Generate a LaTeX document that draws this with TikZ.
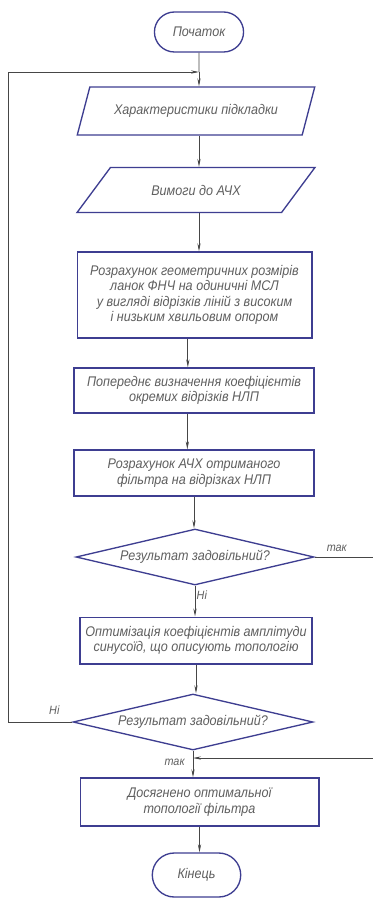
\documentclass[tikz,border=0pt]{standalone}
\usepackage{fontspec}
\newfontfamily\gostfont[FakeStretch=0.9]{Liberation Sans}
\usetikzlibrary{shapes.geometric,shapes.misc,arrows.meta,positioning,calc}
\definecolor{framecol}{RGB}{62,62,145}
\definecolor{linecol}{RGB}{70,70,70}
\definecolor{textcol}{RGB}{95,95,95}
\tikzset{
    terminal/.style={
        draw=framecol,
        rounded rectangle,
        line width=1pt,
        fill=white
    },
    io_block/.style={
        draw=framecol,
        trapezium,
        trapezium stretches=true,
        line width=1pt,
        fill=white
    },
    block/.style={
        draw=framecol,
        rectangle,
        line width=1pt,
        fill=white
    },
    decision/.style={
        draw=framecol,
        diamond,
        aspect=4.2,
        inner sep=0pt,
        line width=1pt,
        fill=white
    },
    flow/.style={
        draw=linecol,
        line width=0.6pt
    },
    tag/.style={
        font=\gostfont\itshape\fontsize{9}{10}\selectfont,
        text=textcol,
        inner sep=1pt
    },
}

\begin{document}
\begin{tikzpicture}[x=0.75pt, y=-0.75pt, align=center,
    font=\gostfont\itshape\fontsize{10.5}{11.5}\selectfont, text=textcol,
    >={Stealth[length=6pt,width=2.4pt]}]
    \useasboundingbox[fill=white] (0,0) rectangle (373,899);
    % blocks
    \node[terminal, minimum width=73.5pt, minimum height=30pt] (start) at (199,32) {Початок};
    \node[io_block, trapezium left angle=65, trapezium right angle=115,
          minimum width=178.5pt, minimum height=36pt] (chars) at (196,111) {Характеристики підкладки};
    \node[io_block, trapezium left angle=45, trapezium right angle=135,
          minimum width=178.5pt, minimum height=33.75pt] (specs) at (196,190) {Вимоги до АЧХ};
    \node[block, minimum width=176pt, minimum height=64.5pt] (geom) at (194.5,295)
        {Розрахунок геометричних розмірів\\ ланок ФНЧ на одиничні МСЛ\\ у вигляді відрізків ліній з високим\\ і низьким хвильовим опором};
    \node[block, minimum width=180pt, minimum height=33.75pt] (coefs) at (194,390.5)
        {Попереднє визначення коефіцієнтів\\ окремих відрізків НЛП};
    \node[block, minimum width=180pt, minimum height=34.5pt] (afc) at (194,473)
        {Розрахунок АЧХ отриманого\\ фільтра на відрізках НЛП};
    \node[decision, minimum width=178.5pt, minimum height=42pt] (check1) at (195,557) {Результат задовільний?};
    \node[block, minimum width=174pt, minimum height=35pt] (optim) at (196,640.5)
        {Оптимізація коефіцієнтів амплітуди\\ синусоїд, що описують топологію};
    \node[decision, minimum width=180pt, minimum height=42pt] (check2) at (193,722) {Результат задовільний?};
    \node[block, minimum width=179pt, minimum height=36pt] (done) at (199.5,802)
        {Досягнено оптимальної\\ топології фільтра};
    \node[terminal, minimum width=73pt, minimum height=33pt] (finish) at (196.5,875) {Кінець};

    % joins and rails
    \coordinate (join1) at (start.south |- 0,72);
    \coordinate (join2) at (check2.south |- 0,758);
    \coordinate (leftrail) at (8,0);
    \coordinate (rightrail) at (400,0);

    % lines
    \draw[flow] (start) -- (join1);
    \draw[flow,->] (join1) -- (join1 |- chars.north);
    \draw[flow,->] (join1 |- chars.south) -- (join1 |- specs.north);
    \draw[flow,->] (join1 |- specs.south) -- (join1 |- geom.north);
    \draw[flow,->] ([xshift=-5pt]geom.south) -- ([xshift=-5pt]geom.south |- coefs.north);
    \draw[flow,->] ([xshift=-5pt]coefs.south) -- ([xshift=-5pt]coefs.south |- afc.north);
    \draw[flow,->] (afc.south) -- (afc.south |- check1.north);
    \draw[flow,->] (check1.south) -- node[tag, right, pos=0.3] {Ні} (check1.south |- optim.north);
    \draw[flow,->] (optim.south) -- (optim.south |- check2.north);
    \draw[flow,->] (check2.south) -- node[tag, left, pos=0.45, xshift=-5pt] {так} (check2.south |- done.north);
    \draw[flow,->] (done.south) -- (done.south |- finish.north);
    \draw[flow,->] (check2.west) -- node[tag, above, pos=0.28, yshift=4pt] {Ні} (leftrail |- check2.west) |- (join1);
    \draw[flow,->] (check1.east) -- node[tag, above, pos=0.26, yshift=3pt] {так} (rightrail |- check1.east) |- (join2);

\end{tikzpicture}
\end{document}
